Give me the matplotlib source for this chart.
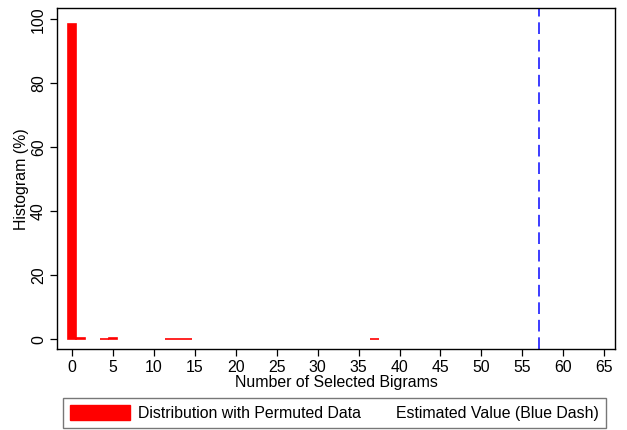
import matplotlib
matplotlib.use("Agg")
import matplotlib.pyplot as plt
from matplotlib.patches import Patch
from matplotlib.lines import Line2D

plt.rcParams["font.family"] = ["Liberation Sans", "DejaVu Sans"]

# permutation distribution (percent per bin)
bin_left = [-0.5, 0.55, 3.45, 4.5, 11.4, 12.48, 13.56, 36.45]
bin_width = 1.08
bin_pct = [98.4, 0.4, 0.2, 0.3, 0.2, 0.2, 0.2, 0.2]

estimated_value = 57

x_ticks = list(range(0, 70, 5))
y_ticks = [0, 20, 40, 60, 80, 100]

fig = plt.figure(figsize=(6.27, 4.30), dpi=100)
ax = fig.add_axes([0.0909, 0.1877, 0.89, 0.7937])

ax.bar(bin_left, bin_pct, width=bin_width, align="edge",
       color="red", edgecolor="red", linewidth=1.2)
ax.axvline(estimated_value, color="#3c3cff", linestyle=(0, (6, 3)), linewidth=1.4)

ax.set_xlim(-1.8, 66.3)
ax.set_ylim(-3.1, 103.5)
ax.set_xticks(x_ticks)
ax.set_yticks(y_ticks)
ax.set_yticklabels([str(v) for v in y_ticks], rotation=90, va="center")
ax.tick_params(direction="out", length=5, width=0.9, labelsize=11.4, pad=3)
for s in ax.spines.values():
    s.set_linewidth(1.0)

ax.set_xlabel("Number of Selected Bigrams", fontsize=11.4, labelpad=0)
ax.set_ylabel("Histogram (%)", fontsize=11.4, labelpad=1)

# legend: red patch for the histogram, text only for the dashed line
fs = 11.4
handles = [Patch(facecolor="red", edgecolor="red"),
           Line2D([], [], linestyle="none")]
labels = ["Distribution with Permuted Data", "Estimated Value (Blue Dash)"]
leg = fig.legend(handles, labels, loc="upper left", ncol=2,
                 bbox_to_anchor=(63 / 627, 1 - 398 / 430),
                 fontsize=fs, frameon=True, fancybox=False,
                 handlelength=3.75, handleheight=1.1, handletextpad=0.55,
                 columnspacing=-2.1, borderpad=0.45, borderaxespad=0)
leg.get_frame().set_edgecolor("#555555")
leg.get_frame().set_linewidth(1.0)

fig.savefig("out.png", dpi=100)
